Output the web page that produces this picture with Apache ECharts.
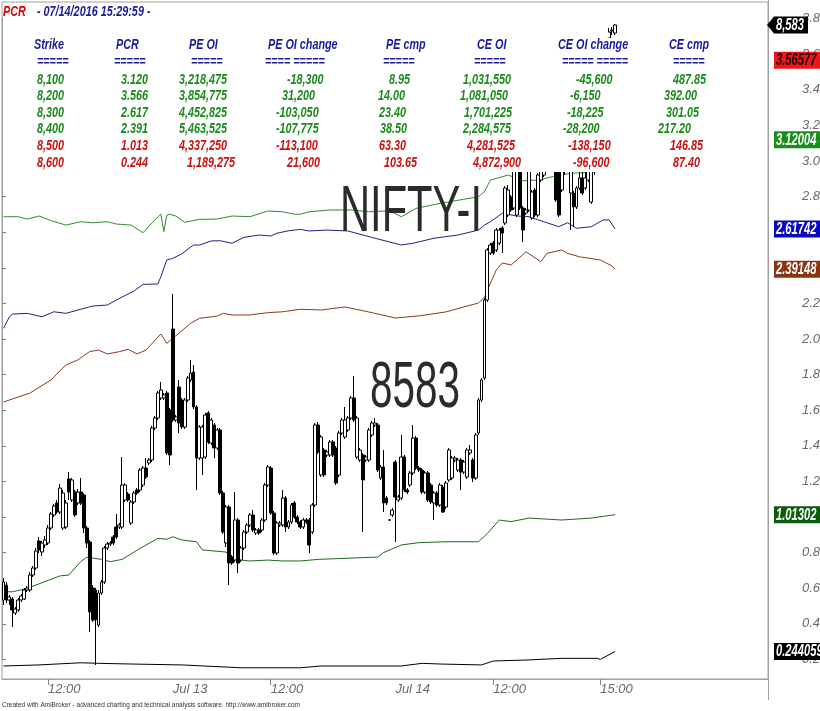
<!DOCTYPE html>
<html><head><meta charset="utf-8">
<script src="https://cdn.jsdelivr.net/npm/echarts@6/dist/echarts.min.js"></script>
<style>html,body{margin:0;padding:0;background:#fff}#c{width:820px;height:711px}</style>
</head><body><div id="c"></div>
<script>
const SANS = '"Liberation Sans",Arial,sans-serif';

// ---------- DATA ----------
const titleName = 'PCR';
const titleStamp = '- 07/14/2016 15:29:59 -';
const symbolName = 'NIFTY-I';
const footerText = 'Created with AmiBroker - advanced charting and technical analysis software. http://www.amibroker.com';

const sessions = [
  {day: '07/12', start: '10:45', bars: 57},
  {day: '07/13', start: '09:15', bars: 75},
  {day: '07/14', start: '09:15', bars: 75}
];
const totalSlots = 258;
const xTickBars = [15, 57, 90, 132, 165, 201];
const xTickLabels = ['12:00', 'Jul 13', '12:00', 'Jul 14', '12:00', '15:00'];
const xTickMarkBars = [15, 90, 165, 201];

// NIFTY-I 5 minute candles [open, close, low, high]
const niftyOHLC = [
  // Jul 12
  [8468,8471.6,8467,8472.4],[8471,8468,8467.4,8471.6],[8468,8468.6,8467,8469],[8468.2,8466,8462.6,8468.6],[8465.4,8466.2,8465,8466.6],
  [8466,8468,8465.6,8468.4],[8468,8468.8,8467.6,8469.2],[8468.2,8470,8468,8470.4],[8470,8470.4,8469.6,8470.8],[8470,8473,8469.6,8473.6],
  [8473,8474.4,8472.6,8474.8],[8474.4,8477.8,8474,8478.4],[8479.8,8478,8477.4,8480.6],[8477.6,8479.4,8476.8,8479.8],[8479,8480,8478.4,8480.8],
  [8479.4,8482.4,8479,8483],[8482.4,8485.2,8482,8485.6],[8485,8486.8,8484.6,8487.2],[8487.4,8485.6,8485.2,8488],[8485.6,8490.4,8485.2,8491.2],
  [8482.4,8489.4,8482,8490],[8482.6,8487.4,8482.2,8488],[8492.2,8489.6,8488,8493.6],[8488,8492,8487.6,8492.4],[8489.6,8485,8484.6,8490],
  [8487.4,8489.6,8487,8490.2],[8489.6,8487.4,8487,8492.4],[8489,8482.4,8481.4,8489.4],[8482.4,8479.4,8478.4,8482.8],[8479.6,8465.6,8461.6,8480],
  [8470.4,8464,8463.6,8471],[8470,8464,8455,8470.4],[8463,8469.4,8462.6,8470],[8469.4,8471.6,8469,8472],[8471.6,8478.4,8471.2,8478.8],
  [8478.4,8479.2,8478,8479.6],[8479.2,8479.4,8478.8,8479.8],[8480.6,8479.4,8479,8481],[8482.6,8480.6,8480.2,8485.2],[8482.6,8483,8482.2,8483.4],
  [8482.6,8491,8482.2,8496.6],[8488,8491,8487.6,8491.4],[8489.2,8488,8487.6,8489.6],[8483.4,8487.6,8483,8488],[8487.6,8489.4,8487.2,8489.8],
  [8490,8489.4,8489,8490.4],[8490,8494,8489.6,8494.4],[8491,8494.4,8490.6,8494.8],[8494.4,8492.6,8492.2,8496.4],[8495.4,8496,8495,8496.4],
  [8496,8502.4,8495.6,8502.8],[8502.4,8504.4,8502,8504.8],[8504.4,8509.4,8504,8509.8],[8508.4,8510,8508,8511.6],[8508.4,8509,8508,8509.4],
  [8509.4,8497.4,8497,8509.8],[8506,8497,8495,8506.4],
  // Jul 13
  [8522.2,8504,8503.6,8529.2],[8504,8504.6,8503.6,8505],[8510.6,8503.4,8501.4,8512],[8508,8502.6,8502.2,8508.4],[8502.6,8508,8502.2,8508.4],
  [8508,8512.4,8507.6,8512.8],[8512,8513.4,8511.6,8516],[8513.6,8506.6,8506.2,8515],[8506.6,8496.4,8490,8507],[8496.4,8502.6,8496,8503],
  [8496.4,8502.6,8493,8503],[8496.6,8505,8496.2,8505.4],[8505.4,8499.6,8499.2,8505.8],[8499.4,8504,8499,8504.4],[8503,8498.4,8496.4,8503.4],
  [8498.4,8502,8498,8502.4],[8502,8489.4,8489,8502.4],[8489.4,8481.6,8481.2,8489.8],[8479.4,8486.6,8478.6,8487],[8486.6,8475.4,8471,8487],
  [8476.6,8475.4,8475,8477],[8476,8484,8475.6,8489.6],[8484,8475.4,8473.4,8484.4],[8476,8478.4,8475.6,8478.8],[8478.4,8481.6,8478,8482],
  [8481.6,8483,8481.2,8483.4],[8483,8485,8482.6,8485.4],[8485,8482,8481.6,8486],[8481.4,8482,8481,8482.4],[8482,8481.4,8481,8482.4],
  [8482,8484,8481.6,8484.4],[8484,8491,8483.6,8491.4],[8491,8494.6,8490.6,8495],[8494.4,8485.4,8485,8494.8],[8485.4,8477.4,8477,8485.8],
  [8477.4,8483.4,8477,8483.8],[8483,8483.4,8482.6,8483.8],[8483,8488.4,8482.6,8490],[8488.4,8482.6,8481.6,8488.8],[8482.6,8483.6,8482.2,8484],
  [8483.6,8487,8483.2,8487.4],[8487.4,8484.6,8484.2,8487.8],[8484.6,8483.6,8483.2,8485],[8483.6,8482.6,8482.2,8484],[8482.6,8484,8482.2,8484.4],
  [8484,8483.6,8483.2,8484.4],[8484,8479,8477.4,8484.4],[8481.6,8487,8481.2,8487.4],[8487,8503,8486.6,8503.4],[8503,8497.6,8497.2,8503.6],
  [8493,8500.6,8492.6,8501],[8498,8493,8492.6,8498.4],[8497,8497.6,8496.6,8498],[8497,8499.6,8496.6,8500],[8499.6,8497,8496.6,8500],
  [8498.4,8491.4,8491,8498.8],[8493,8501.4,8492.6,8501.8],[8501.4,8504,8501,8504.4],[8500.6,8504,8500.2,8506.6],[8502,8504.4,8501.6,8504.8],
  [8504.4,8508.4,8504,8508.8],[8508.4,8504,8503.6,8512.8],[8496.6,8504.4,8496.2,8504.8],[8496,8498,8495.6,8498.4],[8497,8492,8481.6,8497.4],
  [8496,8496.6,8495.6,8497],[8496,8502,8495.6,8502.4],[8501,8503.4,8500.6,8503.8],[8503,8503.4,8502.6,8504.4],[8503,8494,8493.6,8503.4],
  [8492.4,8494.6,8492,8495],[8494.6,8487.4,8485.6,8498],[8488.4,8487.4,8487,8488.8],[8484,8484,8483.8,8484.2],[8485,8486,8484.6,8486.4],
  // Jul 14
  [8495.6,8488.6,8479.6,8496],[8488,8488.6,8487.6,8489],[8488.4,8496.6,8488,8501],[8496.6,8490,8489.6,8497],[8490,8489.6,8489.2,8490.4],
  [8491,8493.4,8490.6,8493.8],[8493.4,8500.4,8493,8503],[8500.4,8494.4,8494,8500.8],[8494.4,8494,8493.6,8494.8],[8494,8489.6,8489.2,8494.4],
  [8489.6,8493.4,8489.2,8493.8],[8493.4,8488,8487.6,8493.8],[8491,8487.6,8487.2,8491.4],[8487.4,8489.4,8484,8489.8],[8489.4,8487,8486.6,8489.8],
  [8487,8491,8486.6,8491.4],[8490.6,8485.6,8485.4,8491],[8486.6,8491.4,8486.2,8491.8],[8492,8498,8491.6,8498.4],[8492.4,8496.4,8492,8496.8],
  [8496,8496.4,8495.6,8496.8],[8494,8496,8493.6,8496.4],[8496,8493.6,8490,8496.4],[8493.6,8495.6,8493.2,8496],[8492.6,8498,8492.2,8498.4],
  [8497.4,8498,8497,8499],[8496,8492.4,8491.6,8496.4],[8492.4,8501,8492,8501.4],[8501.4,8508,8501,8508.4],[8508,8512,8507.6,8512.4],
  [8512.4,8528,8512,8528.4],[8528,8538,8527.6,8538.4],[8537.4,8539,8537,8539.4],[8539.4,8537.4,8537,8539.8],[8538,8542,8537.6,8542.4],
  [8539.4,8542,8539,8542.4],[8542.4,8541.4,8537.4,8542.8],[8543.4,8550.4,8543,8550.8],[8545,8550,8544.6,8551],[8548.6,8546,8545.6,8549],
  [8546.4,8556,8546,8558],[8545,8558,8544.6,8560],[8556,8546.4,8546,8557],[8546.4,8542,8539.6,8546.8],[8545.4,8546,8545,8546.4],
  [8546,8556,8545.6,8558],[8544.4,8549.6,8544,8550],[8550,8545,8544.6,8550.4],[8545,8553,8544.6,8553.4],[8552,8558,8551.6,8560],
  [8553,8562,8552.6,8564],[8560,8566,8558,8568],[8565,8562,8558,8567],[8562,8560,8555,8564],[8560,8548,8547.6,8561],
  [8558,8545,8544.6,8559],[8550,8560,8549.6,8561],[8560,8564,8553,8566],[8564,8560,8556,8566],[8549.4,8558,8542,8559],
  [8549.4,8546.6,8542.6,8549.8],[8546.6,8550.4,8546.2,8550.8],[8550.4,8552.4,8550,8554],[8552.4,8549.4,8549,8554],[8550.4,8552.4,8550,8554],
  [8552,8556,8551.6,8558],[8547.6,8558,8547.2,8560],[8558,8564,8553,8568],[8564,8570,8562,8572],[8570,8574,8568,8576],
  [8574,8578,8572,8580],[8578,8580.4,8576,8582],[8580.4,8581.6,8579.6,8582.4],[8581.8,8582,8581,8582.6],[8581.4,8583,8581,8583.2]
];

// PCR lines per strike, [bar index, value]
const pcr8100 = [[0,2.687],[5,2.687],[8,2.674],[12,2.691],[16,2.665],[21,2.640],[26,2.659],[30,2.653],[35,2.659],[38,2.646],[43,2.640],[47,2.597],[50,2.652],[53,2.702],[54,2.603],[55,2.695],[56,2.701],[58,2.691],[61,2.656],[66,2.672],[72,2.674],[77,2.691],[83,2.687],[89,2.719],[94,2.715],[98,2.701],[100,2.701],[103,2.715],[110,2.725],[117,2.725],[123,2.715],[130,2.720],[134,2.687],[139,2.734],[147,2.762],[155,2.785],[160,2.799],[162,2.828],[164,2.893],[170,2.921],[175,2.889],[180,2.893],[185,2.912],[191,2.931],[195,2.934],[200,2.940],[202,2.99],[204,3.06],[206,3.12004]];
const pcr8200 = [[206,3.56577]];
const pcr8300 = [[0,2.060],[2,2.125],[3,2.140],[8,2.144],[13,2.125],[17,2.153],[21,2.144],[26,2.167],[30,2.185],[35,2.191],[38,2.219],[44,2.270],[47,2.307],[52,2.309],[53,2.350],[55,2.444],[57,2.453],[60,2.478],[64,2.528],[66,2.528],[70,2.551],[73,2.552],[77,2.538],[81,2.571],[86,2.584],[90,2.579],[92,2.594],[96,2.608],[100,2.616],[103,2.607],[109,2.612],[116,2.607],[124,2.571],[134,2.528],[138,2.538],[145,2.566],[153,2.584],[160,2.612],[162,2.640],[164,2.659],[168,2.706],[173,2.691],[177,2.687],[182,2.659],[187,2.631],[190,2.653],[193,2.622],[198,2.631],[202,2.669],[204,2.669],[206,2.61742]];
const pcr8400 = [[0,1.646],[9,1.697],[16,1.770],[21,1.854],[25,1.882],[29,1.929],[32,1.938],[35,1.916],[39,1.929],[42,1.942],[45,1.916],[48,1.938],[53,2.028],[55,1.976],[58,2.017],[63,2.088],[66,2.116],[72,2.129],[74,2.144],[77,2.135],[83,2.135],[89,2.148],[94,2.153],[100,2.167],[107,2.163],[115,2.180],[123,2.152],[132,2.118],[140,2.130],[149,2.152],[155,2.180],[160,2.202],[162,2.236],[163,2.275],[166,2.388],[168,2.427],[171,2.416],[176,2.490],[181,2.434],[183,2.481],[188,2.500],[190,2.481],[194,2.462],[201,2.444],[205,2.410],[206,2.39148]];
const pcr8500 = [[0,0.580],[3,0.580],[8,0.599],[13,0.631],[19,0.669],[22,0.674],[26,0.749],[28,0.774],[33,0.762],[36,0.749],[40,0.762],[46,0.824],[52,0.880],[55,0.875],[57,0.889],[60,0.871],[65,0.861],[67,0.815],[75,0.803],[77,0.764],[83,0.753],[89,0.758],[94,0.753],[100,0.753],[106,0.762],[126,0.775],[128,0.800],[134,0.843],[140,0.856],[149,0.861],[160,0.861],[163,0.908],[167,0.983],[171,0.974],[177,0.994],[188,0.983],[198,0.994],[203,1.006],[206,1.01302]];
const pcr8600 = [[0,0.163],[12,0.169],[26,0.181],[32,0.178],[43,0.174],[60,0.169],[80,0.153],[100,0.153],[107,0.163],[134,0.163],[141,0.178],[147,0.174],[161,0.169],[165,0.191],[177,0.197],[188,0.206],[200,0.206],[201,0.200],[206,0.244059]];

// option chain table
const strikes = [8100, 8200, 8300, 8400, 8500, 8600];
const pcrTable = [3.120, 3.566, 2.617, 2.391, 1.013, 0.244];
const peOI = [3218475, 3854775, 4452825, 5463525, 4337250, 1189275];
const peOIChange = [-18300, 31200, -103050, -107775, -113100, 21600];
const peCmp = [8.95, 14.00, 23.40, 38.50, 63.30, 103.65];
const ceOI = [1031550, 1081050, 1701225, 2284575, 4281525, 4872900];
const ceOIChange = [-45600, -6150, -18225, -28200, -138150, -96600];
const ceCmp = [487.85, 392.00, 301.05, 217.20, 146.85, 87.40];
const tableHeaders = ['Strike', 'PCR', 'PE OI', 'PE OI change', 'PE cmp', 'CE OI', 'CE OI change', 'CE cmp'];
const tableRules = ['=====', '=====', '=====', '==== =====', '=====', '=====', '===== =====', '====='];

// ---------- LAYOUT / STYLE ----------
const headerX = [34, 116, 189, 268, 386, 477, 558, 669];
const ruleX = [37, 114, 191, 265, 383, 474, 562, 673];
const cellX = [
  [37, 37, 37, 37, 37, 37],
  [121, 121, 121, 121, 121, 121],
  [179, 179, 179, 179, 179, 187],
  [287, 282, 276, 276, 276, 287],
  [389, 378, 379, 380, 379, 384],
  [463, 460, 464, 463, 467, 473],
  [576, 570, 567, 563, 568, 573],
  [673, 664, 666, 658, 670, 673]
];
const rowY = [79.5, 96, 112.5, 129, 146, 163];
const rowColor = ['#1d8a1d', '#1d8a1d', '#1d8a1d', '#1d8a1d', '#cc1111', '#cc1111'];
const lineStyles = [
  {data: pcr8100, color: '#2f8c2f', tagBg: '#17901a', tagFg: '#ffffff'},
  {data: pcr8200, color: '#e01010', tagBg: '#e81818', tagFg: '#2a0000'},
  {data: pcr8300, color: '#20208a', tagBg: '#0808c0', tagFg: '#ffffff'},
  {data: pcr8400, color: '#8b3c1c', tagBg: '#8b3412', tagFg: '#ffffff'},
  {data: pcr8500, color: '#1d6a1d', tagBg: '#0c5c0c', tagFg: '#ffffff'},
  {data: pcr8600, color: '#000000', tagBg: '#000000', tagFg: '#ffffff'}
];

function fmtInt(n) { return String(n).replace(/\B(?=(\d{3})+(?!\d))/g, ','); }

function buildCategories() {
  const cats = [];
  sessions.forEach(s => {
    let [h, m] = s.start.split(':').map(Number);
    for (let k = 0; k < s.bars; k++) {
      cats.push(s.day + ' ' + String(h).padStart(2, '0') + ':' + String(m).padStart(2, '0'));
      m += 5; if (m >= 60) { m -= 60; h++; }
    }
  });
  let f = 0;
  while (cats.length < totalSlots) cats.push('blank' + (f++));
  return cats;
}
const categories = buildCategories();
const labelMap = new Map(xTickBars.map((b, i) => [b, xTickLabels[i]]));
const tickSet = new Set(xTickMarkBars);

const chart = echarts.init(document.getElementById('c'), null, {renderer: 'canvas'});

const series = lineStyles.map(l => ({
  type: 'line', xAxisIndex: 0, yAxisIndex: 0, data: l.data,
  symbol: 'none', showSymbol: false, silent: true, z: 2,
  lineStyle: {width: 1, color: l.color}, emphasis: {disabled: true}
}));
series.push({
  type: 'candlestick', xAxisIndex: 0, yAxisIndex: 1, data: niftyOHLC,
  barWidth: 3.4, silent: true, z: 3,
  itemStyle: {color: '#ffffff', color0: '#000000', borderColor: '#000000', borderColor0: '#000000', borderColorDoji: '#000000', borderWidth: 1}
});

const axisFont = {color: '#6a6a6a', fontSize: 13, fontStyle: 'italic', fontFamily: SANS};

chart.setOption({
  animation: false,
  backgroundColor: '#ffffff',
  grid: [
    {left: 2, top: 2, width: 766, height: 677, show: true, borderColor: '#a0a0a0', borderWidth: 1, backgroundColor: '#ffffff', containLabel: false, outerBoundsMode: 'none'},
    {left: 2, top: 18.6, width: 766, height: 640.8, show: false, containLabel: false, outerBoundsMode: 'none'}
  ],
  xAxis: [
    {type: 'category', gridIndex: 0, data: categories, boundaryGap: true,
     axisLine: {show: true, lineStyle: {color: '#a0a0a0'}},
     axisTick: {show: true, alignWithLabel: true, length: 6, interval: (i) => tickSet.has(i), lineStyle: {color: '#808080'}},
     axisLabel: Object.assign({show: true, interval: (i) => labelMap.has(i), formatter: (v, i) => labelMap.get(i) || '', align: 'left', margin: 4, hideOverlap: false}, axisFont),
     splitLine: {show: false}},
    {type: 'value', gridIndex: 1, show: false, min: 0, max: 1}
  ],
  yAxis: [
    {type: 'value', gridIndex: 0, min: 0.0899, max: 3.8933, show: false},
    {type: 'value', gridIndex: 0, min: 8452.2, max: 8587.6, show: false},
    {type: 'value', gridIndex: 1, position: 'right', min: 0.2, max: 3.8, interval: 0.2,
     axisLine: {show: true, lineStyle: {color: '#a0a0a0'}},
     axisTick: {show: true, length: 4, lineStyle: {color: '#808080'}},
     axisLabel: Object.assign({margin: 34, formatter: v => v.toFixed(1)}, axisFont),
     splitLine: {show: false}}
  ],
  series: series
});

// ---------- overlay graphics ----------
const mctx = document.createElement('canvas').getContext('2d');
function fitScale(s, font, target) { mctx.font = font; const w = mctx.measureText(s).width; return w > 0 ? target / w : 1; }
function txt(s, x, y, font, fill, sx, z) {
  return {type: 'text', x: x, y: y, scaleX: sx || 1, z: z || 60, silent: true,
    style: {text: s, font: font, fill: fill, align: 'left', verticalAlign: 'middle'}};
}
const tf = 'italic bold 15px ' + SANS;
const SX = 0.72;
const g = [];
// table background boxes
g.push({type: 'rect', z: 50, silent: true, shape: {x: 3, y: 3, width: 605, height: 169}, style: {fill: '#ffffff'}});
g.push({type: 'rect', z: 50, silent: true, shape: {x: 607, y: 38, width: 12, height: 134}, style: {fill: '#ffffff'}});
g.push(txt(titleName, 3, 12, tf, '#dd0000', SX));
g.push(txt(titleStamp, 37, 12, tf, '#1a1aa0', SX));
tableHeaders.forEach((h, c) => {
  g.push(txt(h, headerX[c], 44.5, tf, '#1a1aa0', SX));
  g.push(txt(tableRules[c], ruleX[c], 61.5, tf, '#1a1aa0', SX));
});
const cols = [
  strikes.map(fmtInt), pcrTable.map(v => v.toFixed(3)), peOI.map(fmtInt), peOIChange.map(fmtInt),
  peCmp.map(v => v.toFixed(2)), ceOI.map(fmtInt), ceOIChange.map(fmtInt), ceCmp.map(v => v.toFixed(2))
];
cols.forEach((col, c) => col.forEach((s, r) => g.push(txt(s, cellX[c][r], rowY[r], tf, rowColor[r], SX))));

// big watermark texts
const lastClose = niftyOHLC[niftyOHLC.length - 1][1];
const bigFont = '65px ' + SANS;
g.push(txt(symbolName, 340, 213.5, bigFont, '#2b2b2b', fitScale(symbolName, bigFont, 142), 40));
g.push(txt(String(lastClose), 370, 389, bigFont, '#2b2b2b', fitScale(String(lastClose), bigFont, 90), 40));

// right axis line extension
g.push({type: 'line', z: 45, silent: true, shape: {x1: 768.5, y1: 0, x2: 768.5, y2: 700}, style: {stroke: '#a0a0a0', lineWidth: 1}});

// value tags on the right
const tagFont = 'italic bold 16px ' + SANS;
lineStyles.forEach(l => {
  const v = l.data[l.data.length - 1][1];
  const y = chart.convertToPixel({yAxisIndex: 0}, v);
  g.push({type: 'rect', z: 70, silent: true, shape: {x: 774, y: y - 8.5, width: 50, height: 17}, style: {fill: l.tagBg}});
  g.push(txt(v.toPrecision(6), 776, y + 0.5, tagFont, l.tagFg, 0.70, 71));
});
const py = chart.convertToPixel({yAxisIndex: 1}, lastClose);
g.push({type: 'polygon', z: 70, silent: true,
  shape: {points: [[767, py], [774, py - 8.5], [808, py - 8.5], [808, py + 8.5], [774, py + 8.5]]}, style: {fill: '#000000'}});
g.push(txt(fmtInt(lastClose), 776, py + 0.5, tagFont, '#ffffff', 0.70, 71));

// footer
const footFont = '8px ' + SANS;
g.push(txt(footerText, 2, 705, footFont, '#333333', fitScale(footerText, footFont, 298), 60));

chart.setOption({graphic: g});
</script>
</body></html>
